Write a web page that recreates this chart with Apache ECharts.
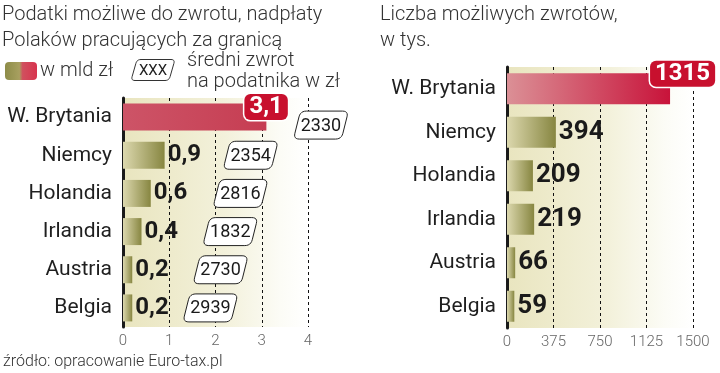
<!DOCTYPE html>
<html><head><meta charset="utf-8">
<script src="https://cdn.jsdelivr.net/npm/echarts@6/dist/echarts.min.js"></script>
<style>html,body{margin:0;padding:0;background:#fff}#c{width:720px;height:373px}</style>
</head><body><div id="c"></div>
<script>
// ---- data ----
const categories = ['W. Brytania', 'Niemcy', 'Holandia', 'Irlandia', 'Austria', 'Belgia'];
const refundBn = [3.1, 0.9, 0.6, 0.4, 0.2, 0.2];          // w mld zł
const avgRefund = [2330, 2354, 2816, 1832, 2730, 2939];   // średni zwrot na podatnika w zł
const refundCount = [1315, 394, 209, 219, 66, 59];        // w tys.
const leftTicks = [0, 1, 2, 3, 4];
const rightTicks = [0, 375, 750, 1125, 1500];

// ---- layout (not data) ----
const avgBoxX = [4.28, 2.76, 2.54, 2.32, 2.11, 1.89];
const avgBoxDy = [8, 0, 0, 0, 0, 0];

const G = echarts.graphic;
const FONT = 'Roboto, "Open Sans", sans-serif';
const BOLD = 'Roboto, sans-serif';

function skewRoundRect(cx, cy, w, h, s, r) {
  const c = [[cx - w/2 + s, cy - h/2], [cx + w/2 + s, cy - h/2], [cx + w/2 - s, cy + h/2], [cx - w/2 - s, cy + h/2]];
  const pts = [];
  for (let i = 0; i < 4; i++) {
    const P = c[i], A = c[(i + 3) % 4], B = c[(i + 1) % 4];
    const da = Math.hypot(A[0]-P[0], A[1]-P[1]), db = Math.hypot(B[0]-P[0], B[1]-P[1]);
    const p1 = [P[0] + (A[0]-P[0]) * r / da, P[1] + (A[1]-P[1]) * r / da];
    const p2 = [P[0] + (B[0]-P[0]) * r / db, P[1] + (B[1]-P[1]) * r / db];
    for (let k = 0; k <= 6; k++) {
      const t = k / 6;
      pts.push([(1-t)*(1-t)*p1[0] + 2*(1-t)*t*P[0] + t*t*p2[0], (1-t)*(1-t)*p1[1] + 2*(1-t)*t*P[1] + t*t*p2[1]]);
    }
  }
  return pts;
}

const olive = () => new G.LinearGradient(0, 0, 1, 0, [{offset: 0, color: '#dcd8ae'}, {offset: 1, color: '#878641'}]);
const bgGrad = () => new G.LinearGradient(0, 0, 1, 0, [{offset: 0, color: '#e9e5bf'}, {offset: 0.55, color: '#f3f1db'}, {offset: 0.85, color: '#fcfcf6'}, {offset: 1, color: '#ffffff'}]);

const redLabel = (offset, size) => ({
  show: true, position: 'right', distance: 0, offset: offset,
  color: '#fff', fontFamily: BOLD, fontWeight: 'bold', fontSize: size,
  backgroundColor: '#c8102e', borderColor: '#fff', borderWidth: 1.5, borderRadius: 6,
  padding: [2, 5, 0, 5]
});

const leftData = refundBn.map((v, i) => i === 0 ? {
  value: v,
  itemStyle: {color: new G.LinearGradient(0, 0, 1, 0, [{offset: 0, color: '#cd5467'}, {offset: 1, color: '#c63d52'}])},
  label: redLabel([-22, -10], 24)
} : {value: v, itemStyle: {color: olive()}});

const rightData = refundCount.map((v, i) => i === 0 ? {
  value: v,
  itemStyle: {color: new G.LinearGradient(0, 0, 1, 0, [{offset: 0, color: '#db9096'}, {offset: 1, color: '#c8133a'}])},
  label: redLabel([-20, -15], 24)
} : {value: v, itemStyle: {color: olive()}});

function xAxisCfg(idx, ticks) {
  return {
    gridIndex: idx, type: 'value', min: ticks[0], max: ticks[ticks.length - 1], interval: ticks[1] - ticks[0],
    axisLine: {show: false}, axisTick: {show: false},
    axisLabel: {color: '#666', fontSize: 15, fontFamily: FONT, fontWeight: 300, margin: 7, formatter: v => String(v)},
    splitLine: {show: true, lineStyle: {color: '#111', type: [3, 3], width: 1}}
  };
}
function yAxisCfg(idx) {
  return {
    gridIndex: idx, type: 'category', data: categories, inverse: true,
    axisLine: {show: true, lineStyle: {color: '#1a1a1a', width: 3}}, axisTick: {show: false},
    axisLabel: {color: '#1f1f1f', fontSize: 21, fontFamily: FONT, margin: 11},
    splitLine: {show: false}
  };
}

const valLabel = (fmt, size) => ({
  show: true, position: 'right', distance: 3, color: '#1a1a1a', fontFamily: BOLD, fontWeight: 'bold', fontSize: size,
  formatter: fmt
});

const txt = (x, y, text, size, extra) => Object.assign({
  type: 'text', x: x, y: y,
  style: Object.assign({text: text, fill: '#333', font: `300 ${size}px ${FONT}`, verticalAlign: 'middle'}, extra || {})
});

const chart = echarts.init(document.getElementById('c'), null, {renderer: 'canvas'});
chart.setOption({
  animation: false,
  grid: [
    {left: 123, top: 98, width: 185, height: 229, show: true, borderWidth: 0, backgroundColor: bgGrad()},
    {left: 507, top: 67, width: 186, height: 261, show: true, borderWidth: 0, backgroundColor: bgGrad()}
  ],
  xAxis: [xAxisCfg(0, leftTicks), xAxisCfg(1, rightTicks)],
  yAxis: [yAxisCfg(0), yAxisCfg(1)],
  series: [
    {type: 'bar', xAxisIndex: 0, yAxisIndex: 0, barWidth: 27, data: leftData, z: 3,
     label: valLabel(p => String(p.value).replace('.', ','), 24)},
    {type: 'bar', xAxisIndex: 1, yAxisIndex: 1, barWidth: 31, data: rightData, z: 3,
     label: valLabel(p => String(p.value), 26)},
    {type: 'custom', xAxisIndex: 0, yAxisIndex: 0, clip: false, z: 4,
     data: avgRefund.map((v, i) => [avgBoxX[i], i, v]),
     encode: {x: 0, y: 1},
     renderItem: function (params, api) {
       const i = params.dataIndex;
       const c = api.coord([api.value(0), api.value(1)]);
       const cx = c[0], cy = c[1] + avgBoxDy[i];
       return {type: 'group', children: [
         {type: 'polygon', shape: {points: skewRoundRect(cx, cy, 48, 28, 3.5, 6)},
          style: {fill: '#fff', stroke: '#222', lineWidth: 1}},
         {type: 'text', style: {text: String(api.value(2)), x: cx, y: cy + 1, align: 'center', verticalAlign: 'middle',
          fontSize: 18, fontFamily: FONT, fill: '#1a1a1a'}}
       ]};
     }}
  ],
  graphic: [
    txt(2, 15, 'Podatki możliwe do zwrotu, nadpłaty', 20),
    txt(2, 41, 'Polaków pracujących za granicą', 20),
    txt(380, 15, 'Liczba możliwych zwrotów,', 20),
    txt(380, 41, 'w tys.', 20),
    {type: 'rect', shape: {x: 5, y: 62, width: 32, height: 18, r: 4},
     style: {fill: new G.LinearGradient(0, 0, 1, 0, [{offset: 0, color: '#8d8c48'}, {offset: 0.45, color: '#a8a060'}, {offset: 0.55, color: '#d0505e'}, {offset: 1, color: '#d8334e'}])}},
    txt(40, 71, 'w mld zł', 20),
    {type: 'polygon', shape: {points: skewRoundRect(153, 70, 38, 21, 3, 4)}, style: {fill: '#fff', stroke: '#333', lineWidth: 1}},
    {type: 'text', x: 153, y: 71, style: {text: 'XXX', fill: '#222', font: `15px ${FONT}`, align: 'center', verticalAlign: 'middle'}},
    txt(187, 61, 'średni zwrot', 20),
    txt(187, 82, 'na podatnika w zł', 20),
    txt(3, 362, 'źródło: opracowanie Euro-tax.pl', 16)
  ]
});
</script></body></html>
